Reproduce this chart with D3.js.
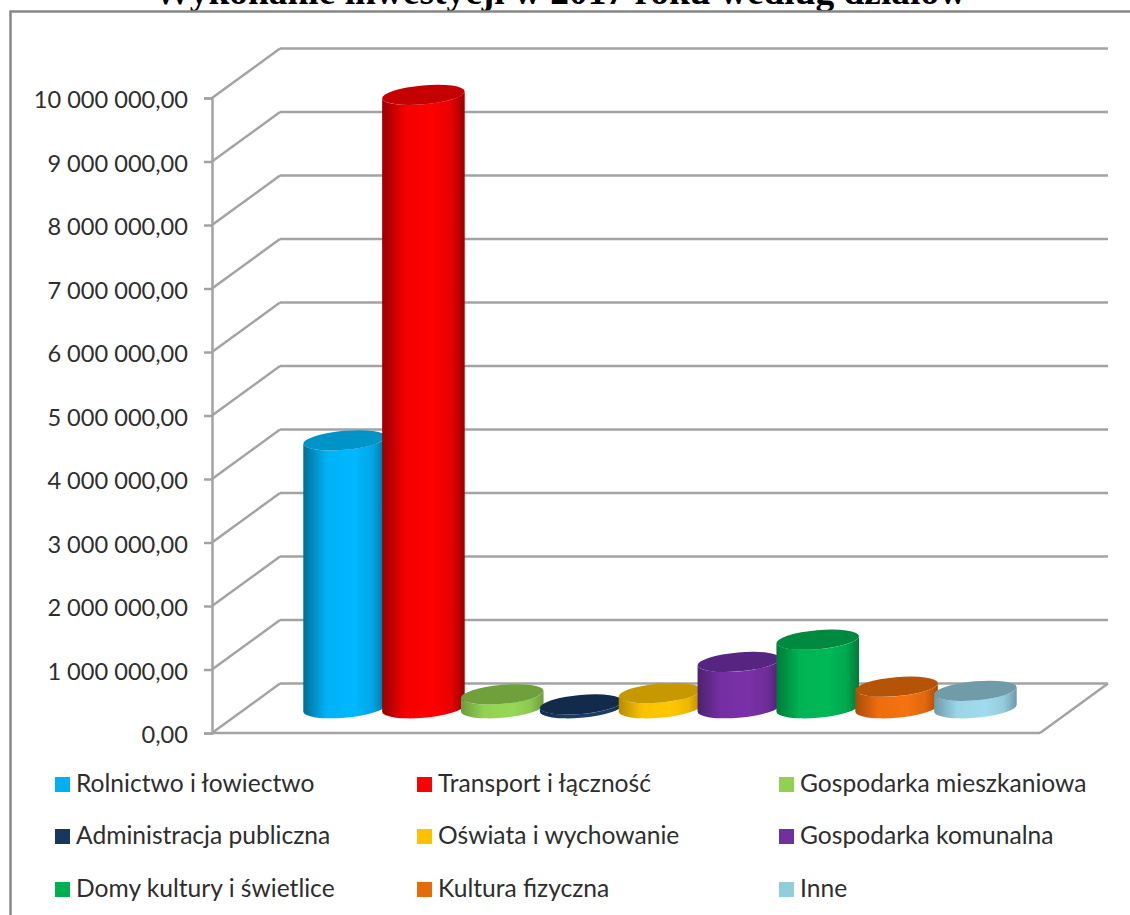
<!DOCTYPE html>
<html>
<head>
<meta charset="utf-8">
<script src="https://cdn.jsdelivr.net/npm/d3@7"></script>
<style>
    html, body { margin: 0; padding: 0; background: #fff; overflow: hidden; }
    svg { display: block; }
</style>
</head>
<body>
<script>
"use strict";
const categories = ["Rolnictwo i łowiectwo", "Transport i łączność", "Gospodarka mieszkaniowa",
    "Administracja publiczna", "Oświata i wychowanie", "Gospodarka komunalna",
    "Domy kultury i świetlice", "Kultura fizyczna", "Inne"];
const values = [4220000, 9660000, 220000, 60000, 240000, 730000, 1080000, 340000, 275000];
const yTicks = [0, 1000000, 2000000, 3000000, 4000000, 5000000, 6000000, 7000000, 8000000, 9000000, 10000000];

const legendColors = ["#00b0f0", "#ff0000", "#92d050", "#17375e", "#ffc000", "#7030a0", "#00b050", "#e46c0a", "#92cddc"];
const sideColors = ["#00b8ff", "#ff0000", "#96d855", "#1a3f6b", "#ffc800", "#7a30a8", "#00b956", "#f5720f", "#a0dcee"];
const edgeColors = ["#006f96", "#9a0000", "#6d9c3e", "#122c4c", "#b88a00", "#4c2270", "#007a3a", "#a84c08", "#6f9aa8"];
const topColors = ["#0093c8", "#c40000", "#70a03c", "#132b4a", "#c79800", "#552580", "#008a40", "#b55407", "#709caa"];

const svgSize = { width: 1130, height: 915 };
const depth = { x: 68, y: -49.5 };
const plot = { left: 212, right: 1040, bottom: 733, top: 98 };

const svg = d3.select("body").append("svg")
    .attr("width", svgSize.width)
    .attr("height", svgSize.height)
    .style("font-family", "Lato");

const yScale = d3.scaleLinear().domain([0, 10000000]).range([plot.bottom, plot.top]);
// categories sit on the plane half way into the chart depth
const xScale = d3.scaleBand().domain(categories)
    .range([plot.left + depth.x / 2, plot.right + depth.x / 2])
    .paddingInner(0).paddingOuter(0.75);

const plFormat = d3.formatLocale({ decimal: ",", thousands: " ", grouping: [3], currency: ["", " zł"] }).format(",.2f");

svg.append("text")
    .attr("x", 560).attr("y", 4)
    .attr("text-anchor", "middle")
    .style("font-family", "'Liberation Serif'")
    .style("font-weight", "bold")
    .style("font-size", "37.4px")
    .text("Wykonanie inwestycji w 2017 roku według działów");

// frame, runs off the picture on the right and at the bottom
svg.append("rect")
    .attr("x", 10.5).attr("y", 11.5)
    .attr("width", 1200).attr("height", 1000)
    .attr("fill", "none").attr("stroke", "#868686").attr("stroke-width", 2.5);

// grid: back wall lines and the diagonals on the side wall
const grid = svg.append("g").attr("stroke", "#a3a3a3").attr("stroke-width", 2.5).attr("fill", "none");
grid.selectAll(".back").data(yTicks).enter().append("line")
    .attr("x1", plot.left + depth.x).attr("x2", plot.right + depth.x)
    .attr("y1", d => yScale(d) + depth.y).attr("y2", d => yScale(d) + depth.y);
grid.selectAll(".side").data(yTicks).enter().append("line")
    .attr("x1", plot.left).attr("x2", plot.left + depth.x)
    .attr("y1", d => yScale(d)).attr("y2", d => yScale(d) + depth.y);
// floor
grid.append("line").attr("x1", plot.left).attr("x2", plot.right)
    .attr("y1", yScale(0)).attr("y2", yScale(0));
grid.append("line").attr("x1", plot.right).attr("x2", plot.right + depth.x)
    .attr("y1", yScale(0)).attr("y2", yScale(0) + depth.y);

const yAxis = d3.axisLeft(yScale).tickValues(yTicks).tickFormat(plFormat).tickSize(8).tickPadding(16);
const axisG = svg.append("g").attr("transform", `translate(${plot.left},0)`).call(yAxis);
axisG.selectAll("line, path").attr("stroke", "#a3a3a3").attr("stroke-width", 2.5);
axisG.selectAll("text")
    .style("font-family", "Lato").style("font-size", "23.6px")
    .attr("dy", "0.42em").attr("fill", "#2e2e2e");

// cylinders
const defs = svg.append("defs");
categories.forEach((c, i) => {
    const g = defs.append("linearGradient").attr("id", "side" + i);
    g.append("stop").attr("offset", "0%").attr("stop-color", edgeColors[i]);
    g.append("stop").attr("offset", "28%").attr("stop-color", d3.interpolateRgb(edgeColors[i], sideColors[i])(0.9));
    g.append("stop").attr("offset", "62%").attr("stop-color", sideColors[i]);
    g.append("stop").attr("offset", "84%").attr("stop-color", d3.interpolateRgb(edgeColors[i], sideColors[i])(0.75));
    g.append("stop").attr("offset", "100%").attr("stop-color", edgeColors[i]);
});

const rx = xScale.step() / 2 + 2;
const ry = 9.5;
const tilt = -5;
const phi = tilt * Math.PI / 180;
// horizontal extreme of the tilted ellipse, where the side of the cylinder touches it
const t0 = Math.atan2(-ry * Math.sin(phi), rx * Math.cos(phi));
const ex = rx * Math.cos(t0) * Math.cos(phi) - ry * Math.sin(t0) * Math.sin(phi);
const ey = rx * Math.cos(t0) * Math.sin(phi) + ry * Math.sin(t0) * Math.cos(phi);

const bars = svg.selectAll(".bar").data(categories).enter().append("g").attr("class", "bar");

function cx(c) { return xScale(c) + xScale.bandwidth() / 2; }
function topY(i) { return yScale(values[i]) + depth.y / 2; }
const baseY = yScale(0) + depth.y / 2;

bars.append("path")
    .attr("fill", (c, i) => `url(#side${i})`)
    .attr("d", (c, i) => {
        const x = cx(c);
        return `M${x - ex},${topY(i) - ey}` +
            `L${x - ex},${baseY - ey}` +
            `A${rx},${ry} ${tilt} 0 0 ${x + ex},${baseY + ey}` +
            `L${x + ex},${topY(i) + ey}` +
            `A${rx},${ry} ${tilt} 0 1 ${x - ex},${topY(i) - ey}Z`;
    });

bars.append("ellipse")
    .attr("rx", rx).attr("ry", ry)
    .attr("fill", (c, i) => topColors[i])
    .attr("transform", (c, i) => `translate(${cx(c)},${topY(i)}) rotate(${tilt})`);

// legend
const legendCols = [55, 417, 779];
const legendRows = [784, 836, 889];
const legend = svg.selectAll(".legend").data(categories).enter().append("g")
    .attr("class", "legend")
    .attr("transform", (c, i) => `translate(${legendCols[i % 3]},${legendRows[Math.floor(i / 3)]})`);
legend.append("rect")
    .attr("x", 0).attr("y", -7).attr("width", 15).attr("height", 15)
    .attr("fill", (c, i) => legendColors[i]);
legend.append("text")
    .attr("x", 21).attr("y", 8)
    .attr("fill", "#2e2e2e")
    .style("font-size", "24.6px")
    .text(c => c);
</script>
</body>
</html>
